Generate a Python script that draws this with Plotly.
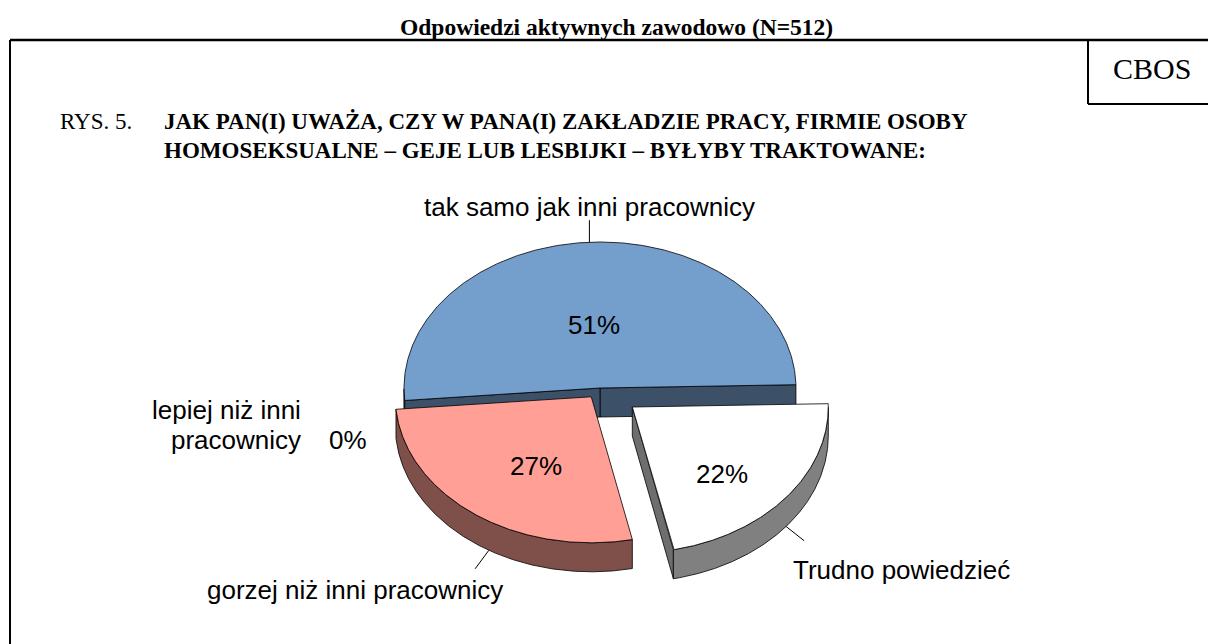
import numpy as np
import plotly.graph_objects as go

# ---------------- data ----------------
categories = ["tak samo jak inni pracownicy", "lepiej niż inni pracownicy",
              "gorzej niż inni pracownicy", "Trudno powiedzieć"]
values = [51, 0, 27, 22]
pct_labels = ["51%", "0%", "27%", "22%"]

# ---------------- style ----------------
top_colors = ["#749ECC", "#749ECC", "#FF9F95", "#FFFFFF"]
side_colors = ["#3C5068", "#3C5068", "#7F4F4A", "#808080"]
radial_colors = ["#3C5068", "#3C5068", "#7F4F4A", "#6E6E6E"]
pulls = [0.0, 0.0, 0.075, 0.21]
label_frac = [0.53, 0.5, 0.47, 0.58]

W, H = 1208, 644
CX, CY, RX, RY, DEPTH = 600, 388, 196, 146, 29
START = 1.3
SANS = "Liberation Sans, Arial, sans-serif"
SERIF = "Liberation Serif, Times New Roman, serif"
OUT = "#000000"


def pt(theta, r=1.0, off=(0.0, 0.0), dz=0.0):
    t = np.radians(theta)
    return (CX + off[0] + r * RX * np.cos(t), CY + off[1] - r * RY * np.sin(t) + dz)


fig = go.Figure()


def poly(xs, ys, color):
    xs = list(xs) + [xs[0]]
    ys = list(ys) + [ys[0]]
    fig.add_trace(go.Scatter(x=xs, y=ys, mode="lines", fill="toself",
                             fillcolor=color, line=dict(color=OUT, width=0.8),
                             hoverinfo="skip", showlegend=False))


total = float(sum(values))
a0 = START
geo = []
for i, v in enumerate(values):
    a1 = a0 + 360.0 * v / total
    bis = (a0 + a1) / 2.0
    b = np.radians(bis)
    off = (pulls[i] * RX * np.cos(b), -pulls[i] * RY * np.sin(b))
    geo.append((a0, a1, bis, off))
    a0 = a1

# draw slices (back to front: blue first)
for i, v in enumerate(values):
    if v <= 0:
        continue
    a0, a1, bis, off = geo[i]
    apex = pt(0, 0, off)
    apex_d = pt(0, 0, off, DEPTH)
    # radial faces
    for edge, normal in ((a0, a0 - 90), (a1, a1 + 90)):
        if np.sin(np.radians(normal)) < 0:
            p = pt(edge, 1, off)
            pd = pt(edge, 1, off, DEPTH)
            poly([apex[0], p[0], pd[0], apex_d[0]],
                 [apex[1], p[1], pd[1], apex_d[1]], radial_colors[i])
    # outer side (front part only)
    th = np.linspace(a0, a1, 400)
    vis = np.sin(np.radians(th)) <= 0
    if vis.sum() > 1:
        tv = th[vis]
        up = [pt(t, 1, off) for t in tv]
        lo = [pt(t, 1, off, DEPTH) for t in tv[::-1]]
        pts = up + lo
        poly([p[0] for p in pts], [p[1] for p in pts], side_colors[i])
    # top face
    arc = [pt(t, 1, off) for t in th]
    pts = [apex] + arc
    poly([p[0] for p in pts], [p[1] for p in pts], top_colors[i])

# percentage labels inside slices
ann = []
for i, v in enumerate(values):
    if v <= 0:
        continue
    a0, a1, bis, off = geo[i]
    x, y = pt(bis, label_frac[i], off, DEPTH / 2)
    ann.append(dict(x=x, y=y, text=pct_labels[i], showarrow=False,
                    font=dict(family=SANS, size=26, color="#000")))

# leader lines
lead = []
a0, a1, bis, off = geo[0]
s = pt(bis, 1, off)
lead.append((s, (s[0], s[1] - 22)))
for i, shift in ((2, 5.0), (3, 0.0)):
    a0, a1, bis, off = geo[i]
    s = pt(bis + shift, 1, off, DEPTH)
    b = np.radians(bis)
    d = np.array([np.cos(b), -np.sin(b)])
    d = d / np.linalg.norm(d)
    lead.append((s, (s[0] + 23 * d[0], s[1] + 23 * d[1])))
for s, e in lead:
    fig.add_trace(go.Scatter(x=[s[0], e[0]], y=[s[1], e[1]], mode="lines",
                             line=dict(color="#000", width=1),
                             hoverinfo="skip", showlegend=False))

# outside category labels
ann += [
    dict(x=589, y=207, text=categories[0], xanchor="center"),
    dict(x=303, y=410, text="lepiej niż inni", xanchor="right"),
    dict(x=303, y=440, text="pracownicy", xanchor="right"),
    dict(x=348, y=440, text=pct_labels[1], xanchor="center"),
    dict(x=355, y=590, text=categories[2], xanchor="center"),
    dict(x=901, y=570, text=categories[3], xanchor="center"),
]
for a in ann[-6:]:
    a.update(showarrow=False, font=dict(family=SANS, size=26, color="#000"))

# titles
ann += [
    dict(x=616, y=27, text="<b>Odpowiedzi aktywnych zawodowo (N=512)</b>",
         xanchor="center", showarrow=False,
         font=dict(family=SERIF, size=23.5, color="#000")),
    dict(x=58, y=121, text="RYS. 5.", xanchor="left", showarrow=False,
         font=dict(family=SERIF, size=23, color="#000")),
    dict(x=162, y=121,
         text="<b>JAK PAN(I) UWAŻA, CZY W PANA(I) ZAKŁADZIE PRACY, FIRMIE OSOBY</b>",
         xanchor="left", showarrow=False,
         font=dict(family=SERIF, size=23, color="#000")),
    dict(x=162, y=150,
         text="<b>HOMOSEKSUALNE – GEJE LUB LESBIJKI – BYŁYBY TRAKTOWANE:</b>",
         xanchor="left", showarrow=False,
         font=dict(family=SERIF, size=23, color="#000")),
    dict(x=1152, y=68, text="CBOS", xanchor="center", showarrow=False,
         font=dict(family=SERIF, size=30, color="#000")),
]
for a in ann:
    a.update(xref="x", yref="y", yanchor="middle")

shapes = [
    dict(type="line", x0=10, x1=W + 5, y0=40, y1=40, line=dict(color="#000", width=2.5)),
    dict(type="line", x0=10, x1=10, y0=40, y1=H + 5, line=dict(color="#000", width=2)),
    dict(type="line", x0=1088, x1=1088, y0=40, y1=104, line=dict(color="#000", width=2)),
    dict(type="line", x0=1088, x1=W + 5, y0=104, y1=104, line=dict(color="#000", width=2)),
]
for sh in shapes:
    sh.update(xref="x", yref="y")

fig.update_layout(
    width=W, height=H, autosize=False,
    margin=dict(l=0, r=0, t=0, b=0),
    paper_bgcolor="white", plot_bgcolor="white",
    xaxis=dict(range=[0, W], visible=False, fixedrange=True),
    yaxis=dict(range=[H, 0], visible=False, fixedrange=True),
    annotations=ann, shapes=shapes, showlegend=False,
)
fig.write_html("out.html", config={"displayModeBar": False},
               post_script="document.body.style.margin='0';"
                           "document.body.style.overflow='hidden';")
